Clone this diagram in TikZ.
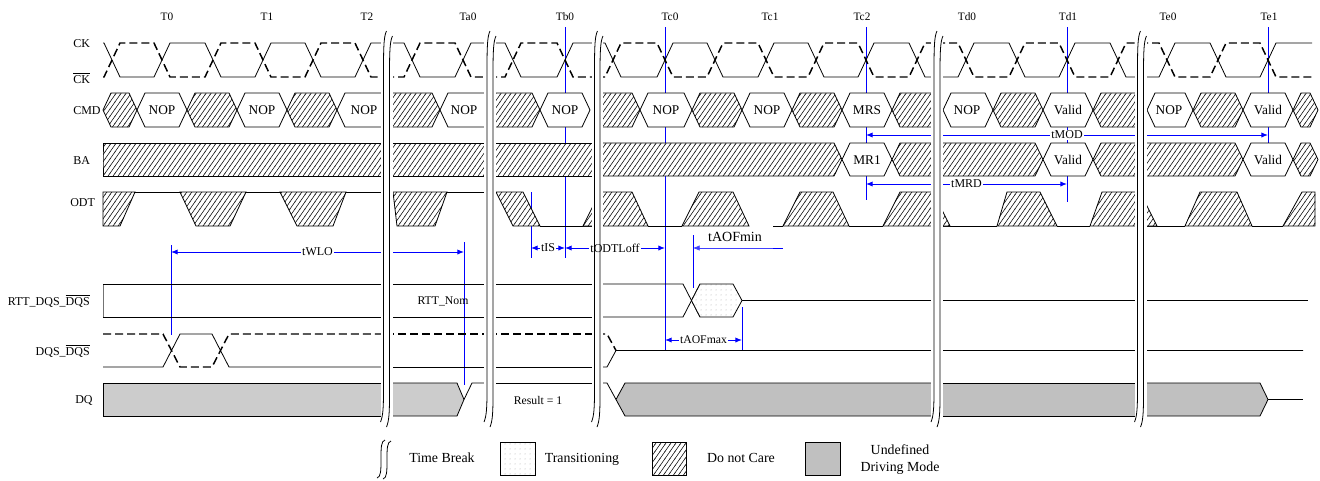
\documentclass[tikz,border=0pt]{standalone}
\usepackage{fontspec}
\setmainfont{Liberation Serif}
\usetikzlibrary{patterns,patterns.meta,arrows.meta}
\definecolor{dqA}{RGB}{204,204,204}
\definecolor{dqB}{RGB}{192,192,192}

\tikzdeclarepattern{name=hatchp, type=uncolored,
  bounding box={(-0.3pt,-0.3pt) and (4.05pt,5.65pt)},
  tile size={(3.75pt,5.35pt)},
  code={\draw[line width=0.4pt] (-0.21pt,-0.3pt) -- (3.96pt,5.65pt);}}
\tikzdeclarepattern{name=dotp, type=uncolored,
  bounding box={(0pt,0pt) and (3.4pt,3.4pt)},
  tile size={(3.4pt,3.4pt)},
  code={\fill (1.7pt,1.7pt) circle (0.35pt);}}

\newcommand\myfs[1]{\fontsize{#1}{#1}\selectfont}
\newcommand\ovl[1]{$\overline{\hbox{#1}}$}

\tikzset{
 sig/.style={line width=0.6pt},
 dsig/.style={line width=1.1pt, dash pattern=on 6pt off 3pt},
 hatchf/.style={sig, draw=black, preaction={fill=white}, pattern=hatchp, pattern color=black},
 cellf/.style={sig, draw=black, fill=white},
 dotf/.style={sig, draw=black, preaction={fill=white}, pattern=dotp, pattern color=black!45},
 grayA/.style={sig, draw=black, fill=dqA},
 grayB/.style={sig, draw=black, fill=dqB},
 bl/.style={draw=blue, line width=0.75pt},
 la/.style={arrows={Latex[length=5pt,width=4pt]-}},
 ra/.style={arrows={-Latex[length=5pt,width=4pt]}},
 dim/.style={bl, arrows={Latex[length=5pt,width=4pt]-Latex[length=5pt,width=4pt]}},
 lab/.style={font=\myfs{9}, fill=white, inner sep=1pt, text=black},
 clab/.style={font=\myfs{10}, inner sep=0pt},
 tlab/.style={font=\myfs{8.5}, inner sep=0pt, anchor=base},
 slab/.style={font=\myfs{9}, inner sep=0pt},
 brkline/.style={line width=0.6pt},
}

% cell: #1 x1, #2 x2, #3 top, #4 bottom, #5 left slope, #6 right slope, #7 style
\newcommand\mycell[7]{%
 \path[#7] (#1,{(#3+#4)/2}) -- (#1+#5,#3) -- (#2-#6,#3) -- (#2,{(#3+#4)/2}) -- (#2-#6,#4) -- (#1+#5,#4) -- cycle;}

% clock segment: #1 start x, #2 start level, #3 crossings c/a/b, #4 end x, #5 end level
\newcommand\clkseg[5]{%
 \draw[sig] (#1,#2) \foreach \cx/\ya/\yb in {#3}{ -- (\cx-8,\ya) -- (\cx+8,\yb)} -- (#4,#5);
 \draw[dsig] (#1,{120-#2}) \foreach \cx/\ya/\yb in {#3}{ -- (\cx-8,{120-\ya}) -- (\cx+8,{120-\yb})} -- (#4,{120-#5});
}

\newcommand\mybrk[2]{%
 \fill[white] (#1-3,38) rectangle (#2+3,420);
 \draw[brkline] (#1+3,31) .. controls (#1+0.5,36) and (#1,45) .. (#1,70) -- (#1,390) .. controls (#1,408) and (#1-0.5,416) .. (#1-3,422);
 \draw[brkline] (#2+3,36) .. controls (#2+0.5,41) and (#2,50) .. (#2,75) -- (#2,395) .. controls (#2,413) and (#2-0.5,421) .. (#2-3,427);
}

\begin{document}
\begin{tikzpicture}[x=0.75pt,y=-0.75pt]
\useasboundingbox (0,0) rectangle (1320,480);

% ---------- blue vertical markers (under the waveforms)
\draw[bl] (565,27) -- (565,258);
\draw[bl] (531,192) -- (531,258);
\draw[bl] (665,27) -- (665,350);
\draw[bl] (693,235) -- (693,288);
\draw[bl] (742,307) -- (742,350);
\draw[bl] (866,27) -- (866,200);
\draw[bl] (1067,27) -- (1067,202);
\draw[bl] (1268,27) -- (1268,143);
\draw[bl] (171,245) -- (171,335);
\draw[bl] (464,242) -- (464,385);

% ---------- time labels
\foreach \x/\t [count=\i] in {167/T0,267/T1,367/T2,468/Ta0,565/Tb0,670/Tc0,770/Tc1,862/Tc2,967/Td0,1068/Td1,1168/Te0,1269/Te1}
  \node[tlab] (tl\i) at (\x,20) {\t};

% ---------- signal names
\node[slab, anchor=base west] (nck) at (73,47) {CK};
\node[slab, anchor=base west] (nckb) at (73,83) {\ovl{CK}};
\node[slab, anchor=base west] (ncmd) at (73,114) {CMD};
\node[slab, anchor=base west] (nba) at (73,164) {BA};
\node[slab, anchor=base west] (nodt) at (70,206) {ODT};
\node[slab, anchor=base east] (nrtt) at (90,305) {RTT\_DQS\_\ovl{DQS}};
\node[slab, anchor=base east] (ndqs) at (90,355) {DQS\_\ovl{DQS}};
\node[slab, anchor=base] (ndq) at (84,403) {DQ};

% ---------- CK / CK#
\clkseg{103}{43}{112/43/77,162/77/43,213/43/77,263/77/43,313/43/77,363/77/43}{386}{43}
\clkseg{386}{43}{412/43/77,463/77/43}{489}{43}
\clkseg{489}{43}{513/43/77,565/77/43}{597}{43}
\clkseg{597}{43}{613/43/77,665/77/43,715/43/77,766/77/43,816/43/77,866/77/43,917/43/77}{937}{77}
\clkseg{937}{77}{966/77/43,1017/43/77,1067/77/43,1118/43/77}{1140}{77}
\clkseg{1140}{77}{1167/77/43,1218/43/77,1268/77/43}{1312}{43}

% ---------- CMD
\mycell{103}{137}{93}{127}{8}{8}{hatchf}
\mycell{137}{187}{93}{127}{8}{8}{cellf}
\mycell{187}{237}{93}{127}{8}{8}{hatchf}
\mycell{237}{287}{93}{127}{8}{8}{cellf}
\mycell{287}{337}{93}{127}{8}{8}{hatchf}
\mycell{337}{386}{93}{127}{8}{0}{cellf}
\mycell{386}{440}{93}{127}{0}{8}{hatchf}
\mycell{440}{489}{93}{127}{8}{0}{cellf}
\mycell{489}{540}{93}{127}{0}{8}{hatchf}
\mycell{540}{590}{93}{127}{8}{8}{cellf}
\mycell{597}{640}{93}{127}{0}{8}{hatchf}
\mycell{640}{692}{93}{127}{8}{8}{cellf}
\mycell{692}{742}{93}{127}{8}{8}{hatchf}
\mycell{742}{792}{93}{127}{8}{8}{cellf}
\mycell{792}{842}{93}{127}{8}{8}{hatchf}
\mycell{842}{892}{93}{127}{8}{8}{cellf}
\mycell{892}{937}{93}{127}{8}{0}{hatchf}
\mycell{943}{993}{93}{127}{8}{8}{cellf}
\mycell{993}{1043}{93}{127}{8}{8}{hatchf}
\mycell{1043}{1093}{93}{127}{8}{8}{cellf}
\mycell{1093}{1140}{93}{127}{8}{0}{hatchf}
\mycell{1147}{1193}{93}{127}{8}{8}{cellf}
\mycell{1193}{1243}{93}{127}{8}{8}{hatchf}
\mycell{1243}{1293}{93}{127}{8}{8}{cellf}
\mycell{1293}{1318}{93}{127}{8}{8}{hatchf}
\node[clab] (c1) at (162,110) {NOP};
\node[clab] (c2) at (262,110) {NOP};
\node[clab] (c3) at (364,110) {NOP};
\node[clab] (c4) at (464,110) {NOP};
\node[clab] (c5) at (565,110) {NOP};
\node[clab] (c6) at (666,110) {NOP};
\node[clab] (c7) at (767,110) {NOP};
\node[clab] (c8) at (867,110) {MRS};
\node[clab] (c9) at (967,110) {NOP};
\node[clab] (c10) at (1068,110) {Valid};
\node[clab] (c11) at (1169,110) {NOP};
\node[clab] (c12) at (1268,110) {Valid};

% ---------- BA
\mycell{103}{386}{143}{176}{0}{0}{hatchf}
\mycell{386}{489}{143}{176}{0}{0}{hatchf}
\mycell{489}{597}{143}{176}{0}{0}{hatchf}
\mycell{597}{842}{143}{176}{0}{8}{hatchf}
\mycell{842}{892}{143}{176}{8}{8}{cellf}
\mycell{892}{937}{143}{176}{8}{0}{hatchf}
\mycell{937}{1043}{143}{176}{0}{8}{hatchf}
\mycell{1043}{1093}{143}{176}{8}{8}{cellf}
\mycell{1093}{1140}{143}{176}{8}{0}{hatchf}
\mycell{1140}{1243}{143}{176}{0}{8}{hatchf}
\mycell{1243}{1293}{143}{176}{8}{8}{cellf}
\mycell{1293}{1318}{143}{176}{8}{8}{hatchf}
\node[clab] (b1) at (867,160) {MR1};
\node[clab] (b2) at (1068,160) {Valid};
\node[clab] (b3) at (1268,160) {Valid};

% ---------- ODT
\draw[sig] (135,192) -- (180,192);
\draw[sig] (246,192) -- (280,192);
\draw[sig] (346,192) -- (386,192);
\path[hatchf] (103,192) -- (135,192) -- (120,226) -- (103,226) -- cycle;
\path[hatchf] (180,192) -- (246,192) -- (230,226) -- (196,226) -- cycle;
\path[hatchf] (280,192) -- (346,192) -- (333,226) -- (297,226) -- cycle;
\draw[sig] (447,192) -- (489,192);
\path[hatchf] (393,192) -- (447,192) -- (435,226) -- (397,226) -- cycle;
\draw[sig] (540,226) -- (597,226);
\path[hatchf] (496,192) -- (523,192) -- (540,226) -- (513,226) -- cycle;
\path[hatchf] (583,226) -- (600,192) -- (602,192) -- (602,226) -- cycle;
\draw[sig] (648,226) -- (682,226);
\draw[sig] (773,226) -- (783,226);
\draw[sig] (849,226) -- (883,226);
\draw[sig] (937,226) -- (997,226);
\draw[sig] (1057,226) -- (1090,226);
\draw[sig] (1140,226) -- (1185,226);
\draw[sig] (1252,226) -- (1283,226);
\path[hatchf] (597,192) -- (632,192) -- (648,226) -- (597,226) -- cycle;
\path[hatchf] (682,226) -- (699,192) -- (733,192) -- (749,226) -- cycle;
\path[hatchf] (783,226) -- (800,192) -- (833,192) -- (849,226) -- cycle;
\path[hatchf] (883,226) -- (900,192) -- (933,192) -- (950,226) -- cycle;
\path[hatchf] (997,226) -- (1007,192) -- (1040,192) -- (1057,226) -- cycle;
\path[hatchf] (1090,226) -- (1102,192) -- (1140,192) -- (1157,226) -- cycle;
\path[hatchf] (1185,226) -- (1200,192) -- (1237,192) -- (1252,226) -- cycle;
\path[hatchf] (1283,226) -- (1302,192) -- (1315,192) -- (1315,226) -- cycle;

% ---------- RTT
\draw[sig, black!55] (103,284) -- (103,317);
\draw[sig] (103,284) -- (386,284) (103,317) -- (386,317);
\draw[sig] (386,284) -- (489,284) (386,317) -- (489,317);
\draw[sig] (489,284) -- (597,284) (489,317) -- (597,317);
\draw[sig] (597,284) -- (683,284) -- (700,317);
\draw[sig] (597,317) -- (683,317) -- (700,284);
\path[dotf] (691.5,300.5) -- (700,284) -- (733,284) -- (742,300.5) -- (733,317) -- (700,317) -- cycle;
\draw[sig] (742,300.5) -- (1308,300.5);
\node[font=\myfs{8.8}, inner sep=0pt, anchor=base] (rnom) at (443,304) {RTT\_Nom};

% ---------- DQS
\draw[dsig] (103,334) -- (163,334) -- (180,367) -- (212,367) -- (229,334) -- (386,334);
\draw[sig] (103,367) -- (163,367) -- (180,334) -- (212,334) -- (229,367) -- (386,367);
\draw[dsig] (386,334) -- (489,334);
\draw[sig] (386,367) -- (489,367);
\draw[dsig] (489,334) -- (597,334);
\draw[sig] (489,367) -- (597,367);
\draw[dsig] (597,334) -- (607,334) -- (616,350.5);
\draw[sig] (597,367) -- (607,367) -- (616,350.5) -- (1303,350.5);

% ---------- DQ
\path[grayA] (103,383) rectangle (386,416);
\path[grayA] (386,383) -- (457,383) -- (464,399.5) -- (457,416) -- (386,416) -- cycle;
\draw[sig] (464,399.5) -- (472,383) -- (489,383);
\draw[sig] (489,383) -- (597,383);
\node[font=\myfs{8.8}, inner sep=0pt] (res) at (538,400) {Result = 1};
\draw[sig] (597,383) -- (607,383) -- (616,399.5);
\path[grayB] (616,399.5) -- (625,383) -- (937,383) -- (937,416) -- (625,416) -- cycle;
\path[grayB] (937,383) rectangle (1140,416);
\path[grayB] (1140,383) -- (1260,383) -- (1268,399.5) -- (1260,416) -- (1140,416) -- cycle;
\draw[sig] (1268,399.5) -- (1303,399.5);

% ---------- timing dimensions
\draw[dim] (171,252) -- node[lab] (dwlo) {tWLO} (464,252);
\draw[dim] (866,135) -- node[lab] (dmod) {tMOD} (1268,135);
\draw[dim] (866,184) -- node[lab] (dmrd) {tMRD} (1067,184);
\draw[dim] (531,248) -- node[lab] (dis) {tIS} (565,248);
\draw[dim] (665,340) -- node[lab, font=\myfs{8.8}] (dmax) {tAOFmax} (742,340);
\draw[bl, la, line width=0.45pt, draw=blue!75] (693,248) -- (783,248);
\draw[bl] (773,248) -- (783,248);
\node[font=\myfs{10.5}, inner sep=0pt] (dmin) at (735,237) {tAOFmin};

% ---------- time breaks
\mybrk{383.5}{389.5}
\mybrk{487}{493}
\mybrk{594.5}{600}
\mybrk{934}{940}
\mybrk{1137.5}{1143.5}

% ---------- tODTLoff (over the break)
\draw[bl, la] (565,248) -- (589,248);
\draw[bl, ra] (641,248) -- (665,248);
\node[font=\myfs{9}, inner sep=0pt] (doff) at (615,248) {tODTLoff};

% ---------- legend
\draw[brkline] (385,440) .. controls (381,441) and (381,448) .. (381,459) .. controls (381,470) and (381,477) .. (377,478);
\draw[brkline] (391,441) .. controls (387,442) and (387,449) .. (387,460) .. controls (387,471) and (387,478) .. (383,479);
\node[font=\myfs{10.4}, inner sep=0pt, anchor=base] (lg1) at (442,462) {Time Break};
\path[dotf] (500,442) rectangle (535,475);
\node[font=\myfs{10.4}, inner sep=0pt, anchor=base] (lg2) at (582,462) {Transitioning};
\path[hatchf] (652,442) rectangle (686,475);
\node[font=\myfs{10.4}, inner sep=0pt, anchor=base] (lg3) at (741,462) {Do not Care};
\path[grayB] (805,442) rectangle (840,475);
\node[font=\myfs{10.4}, inner sep=0pt, anchor=base] (lg4) at (900,454) {Undefined};
\node[font=\myfs{10.4}, inner sep=0pt, anchor=base] (lg5) at (900,471) {Driving Mode};
\end{tikzpicture}
\end{document}
